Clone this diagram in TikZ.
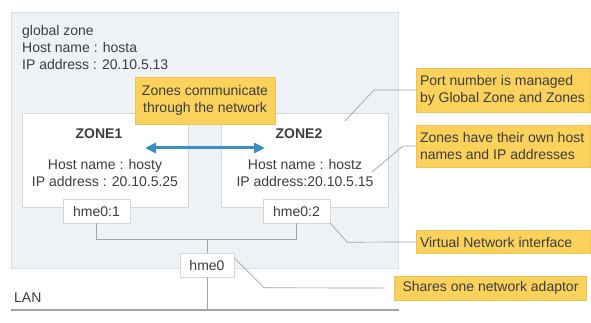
\documentclass[tikz,border=0pt]{standalone}
\usepackage{fontspec}
\setmainfont{Liberation Sans}
\usepackage{tikz}
\usetikzlibrary{arrows.meta,positioning,calc}
\definecolor{GlobalFill}{HTML}{EEF2F5}
\definecolor{GlobalEdge}{HTML}{D9DFE3}
\definecolor{ZoneEdge}{HTML}{D3D8DC}
\definecolor{NoteFill}{HTML}{F9D15B}
\definecolor{NoteEdge}{HTML}{EBC452}
\definecolor{LinkBlue}{HTML}{3A8EC6}
\definecolor{WireGray}{HTML}{A3A3A3}
\definecolor{TextGray}{HTML}{3D3D3D}
\newcommand{\diagfont}{\fontsize{14}{17}\selectfont}

\begin{document}
\begin{tikzpicture}[x=1pt,y=-1pt,
  every node/.style={font=\diagfont, text=TextGray},
  zonebox/.style={draw=ZoneEdge, fill=white, inner sep=0pt},
  portbox/.style={draw=ZoneEdge, fill=white, inner sep=0pt,
    minimum width=67pt, minimum height=24pt},
  note/.style={draw=NoteEdge, fill=NoteFill, inner xsep=4pt, inner ysep=0pt,
    align=flush left, text width=166pt},
  wire/.style={draw=WireGray, line width=0.7pt}]
  \useasboundingbox[fill=white] (0,0) rectangle (591,323);
  \node[draw=GlobalEdge, fill=GlobalFill, minimum width=387pt, minimum height=256pt] (global) at (204.5,140) {};
  \node[anchor=north west, align=left, inner sep=0pt] (globalinfo) at (22,25)
    {global zone\\Host name : hosta\\IP address : 20.10.5.13};
  \node[zonebox, minimum width=166pt, minimum height=94pt] (zone1) at (105,160) {};
  \node[zonebox, minimum width=167pt, minimum height=94pt] (zone2) at (304.5,160) {};
  \node[font=\diagfont\bfseries, anchor=base] (zone1name) at (99,138.5) {ZONE1};
  \node[font=\diagfont\bfseries, anchor=base] (zone2name) at (299,138.5) {ZONE2};
  \node[anchor=base] (zone1host) at (105,169.7) {Host name : hosty};
  \node[anchor=base] (zone1ip) at (105,186.5) {IP address : 20.10.5.25};
  \node[anchor=base] (zone2host) at (305,170) {Host name : hostz};
  \node[anchor=base] (zone2ip) at (305,186.5) {IP address:20.10.5.15};
  \coordinate (talkL) at (145,148);
  \coordinate (talkR) at (265,148);
  \draw[LinkBlue, line width=3pt, {Triangle[length=11pt,width=10pt]}-{Triangle[length=11pt,width=10pt]}] (talkL) -- (talkR);
  \node[portbox] (hme1) at (96.5,211) {hme0:1};
  \node[portbox] (hme2) at (296.5,211) {hme0:2};
  \node[portbox, minimum width=54pt] (hme0) at (207,265) {hme0};
  \coordinate (lanL) at (11,310);
  \coordinate (lanR) at (399,310);
  \draw[wire] (hme1.south) -- ++(0,16) coordinate (busL) -| (hme2.south);
  \draw[wire] (hme0.north) -- (hme0.north |- busL);
  \draw[wire] (hme0.south) -- (hme0.south |- lanL);
  \draw[WireGray, line width=1.5pt] (lanL) -- (lanR);
  \node[anchor=base west, inner sep=0pt] (lanname) at (14,302) {LAN};
  \node[draw=NoteEdge, fill=NoteFill, align=center, minimum width=140pt, minimum height=47pt, inner sep=0pt] (talknote) at (205,100.5)
    {Zones communicate\\through the network};
  \node[note, minimum height=44pt] (portnote) at (503,90)
    {Port number is managed\\by Global Zone and Zones};
  \node[note, minimum height=42pt] (ownnote) at (503,146)
    {Zones have their own host\\names and IP addresses};
  \node[note, minimum height=23pt] (virtnote) at (503,242) {Virtual Network interface};
  \node[draw=NoteEdge, fill=NoteFill, inner xsep=8pt, inner ysep=0pt, minimum height=24pt] (sharenote) at (490.5,288)
    {Shares one network adaptor};
  \coordinate (portpin) at (345,121);
  \coordinate (ownpin) at (372,172);
  \draw[wire] (portpin) -- ++(29,-31) -- (portnote.west);
  \draw[wire] (ownpin) -- ++(31,-26) -- (ownnote.west);
  \draw[wire] (hme2.south east) -- ++(17,19) -- (virtnote.west);
  \draw[wire, shorten >=11pt] ($(hme0.north east)+(0,5)$) -- ++(30,30) -- (sharenote.west);
\end{tikzpicture}
\end{document}
